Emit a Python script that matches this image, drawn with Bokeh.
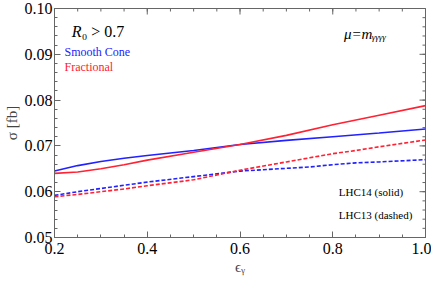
import math
from bokeh.plotting import figure
from bokeh.models import FixedTicker, PrintfTickFormatter, Label, Range1d
from bokeh.embed import file_html
from bokeh.resources import INLINE

# data
eps = [0.2, 0.25, 0.3, 0.35, 0.4, 0.5, 0.6, 0.7, 0.8, 0.9, 1.0]
lhc14_smooth = [0.0645, 0.0657, 0.0666, 0.0673, 0.0679, 0.0690, 0.0703, 0.0712, 0.0720, 0.0728, 0.0737]
lhc14_frac = [0.0640, 0.0643, 0.0650, 0.0659, 0.0669, 0.0686, 0.0703, 0.0723, 0.0746, 0.0767, 0.0788]
eps13 = [0.2, 0.25, 0.3, 0.35, 0.4, 0.5, 0.6, 0.7, 0.75, 0.8, 0.85, 0.9, 1.0]
lhc13_smooth = [0.0592, 0.0600, 0.0607, 0.0614, 0.0621, 0.0633, 0.0645, 0.0651, 0.0654, 0.0659, 0.0663, 0.0665, 0.0670]
lhc13_frac = [0.0589, 0.0594, 0.0600, 0.0606, 0.0613, 0.0626, 0.0647, 0.0665, 0.0674, 0.0683, 0.0690, 0.0698, 0.0713]
x_ticks = [0.2, 0.4, 0.6, 0.8, 1.0]
y_ticks = [0.05, 0.06, 0.07, 0.08, 0.09, 0.10]
x_minor = [round(0.2 + 0.05 * i, 3) for i in range(17)]
y_minor = [round(0.05 + 0.002 * i, 4) for i in range(26)]

BLUE = "#2222ff"
RED = "#ff2233"
FONT = "Liberation Serif"
FRAME = "#666666"

p = figure(frame_width=371, frame_height=229, output_backend="svg", toolbar_location=None,
           x_range=Range1d(0.2, 1.0), y_range=Range1d(0.05, 0.10),
           min_border_top=8, min_border_left=45, min_border_right=6, min_border_bottom=2,
           background_fill_color="white", border_fill_color="white")
p.grid.visible = False
p.outline_line_color = FRAME

xt = FixedTicker(ticks=x_ticks, minor_ticks=x_minor)
yt = FixedTicker(ticks=y_ticks, minor_ticks=y_minor)

for ax in (p.xaxis[0], p.yaxis[0]):
    ax.major_tick_in = 6
    ax.major_tick_out = 0
    ax.minor_tick_in = 3
    ax.minor_tick_out = 0
    ax.axis_line_color = FRAME
    ax.major_tick_line_color = FRAME
    ax.minor_tick_line_color = FRAME
    ax.major_label_text_font = FONT
    ax.major_label_text_font_size = "16px"
    ax.major_label_text_color = "black"
    ax.major_label_standoff = 2
    ax.axis_label_text_font = FONT
    ax.axis_label_text_font_style = "normal"
    ax.axis_label_text_font_size = "15px"

p.xaxis.ticker = xt
p.yaxis.ticker = yt
p.xaxis.formatter = PrintfTickFormatter(format="%.1f")
p.yaxis.formatter = PrintfTickFormatter(format="%.2f")
p.xaxis.axis_label = "ϵᵧ"
p.yaxis.axis_label = "σ [fb]"
p.xaxis.major_label_standoff = 5
p.xaxis.axis_label_standoff = 2
p.yaxis.axis_label_standoff = 2

# inward ticks on the top and right frame edges (dash markers clipped by the frame)
p.scatter(x_ticks, [0.10] * len(x_ticks), marker="dash", angle=math.pi / 2, size=12, line_color=FRAME)
p.scatter(x_minor, [0.10] * len(x_minor), marker="dash", angle=math.pi / 2, size=6, line_color=FRAME)
p.scatter([1.0] * len(y_ticks), y_ticks, marker="dash", size=12, line_color=FRAME)
p.scatter([1.0] * len(y_minor), y_minor, marker="dash", size=6, line_color=FRAME)

p.line(eps, lhc14_smooth, line_color=BLUE, line_width=1.6)
p.line(eps, lhc14_frac, line_color=RED, line_width=1.6)
p.line(eps13, lhc13_smooth, line_color=BLUE, line_width=1.6, line_dash="4 2")
p.line(eps13, lhc13_frac, line_color=RED, line_width=1.6, line_dash="4 2")

def lab(x, y, text, color="black", size="15px", style="normal", dx=0):
    p.add_layout(Label(x=x, y=y, text=text, text_color=color, text_font=FONT, x_offset=dx,
                       text_font_size=size, text_font_style=style, text_baseline="middle"))

lab(0.237, 0.0950, "R", size="16px", style="italic")
lab(0.237, 0.0950, "₀ > 0.7", size="16px", dx=10)
lab(0.824, 0.0944, "μ=mᵧᵧᵧᵧ", size="15px", style="italic")
lab(0.2215, 0.0904, "Smooth Cone", color=BLUE, size="12px")
lab(0.2215, 0.0873, "Fractional", color=RED, size="12px")
lab(0.813, 0.0600, "LHC14 (solid)", size="11px")
lab(0.813, 0.0550, "LHC13 (dashed)", size="11px")

open("out.html", "w").write(file_html(p, INLINE))
